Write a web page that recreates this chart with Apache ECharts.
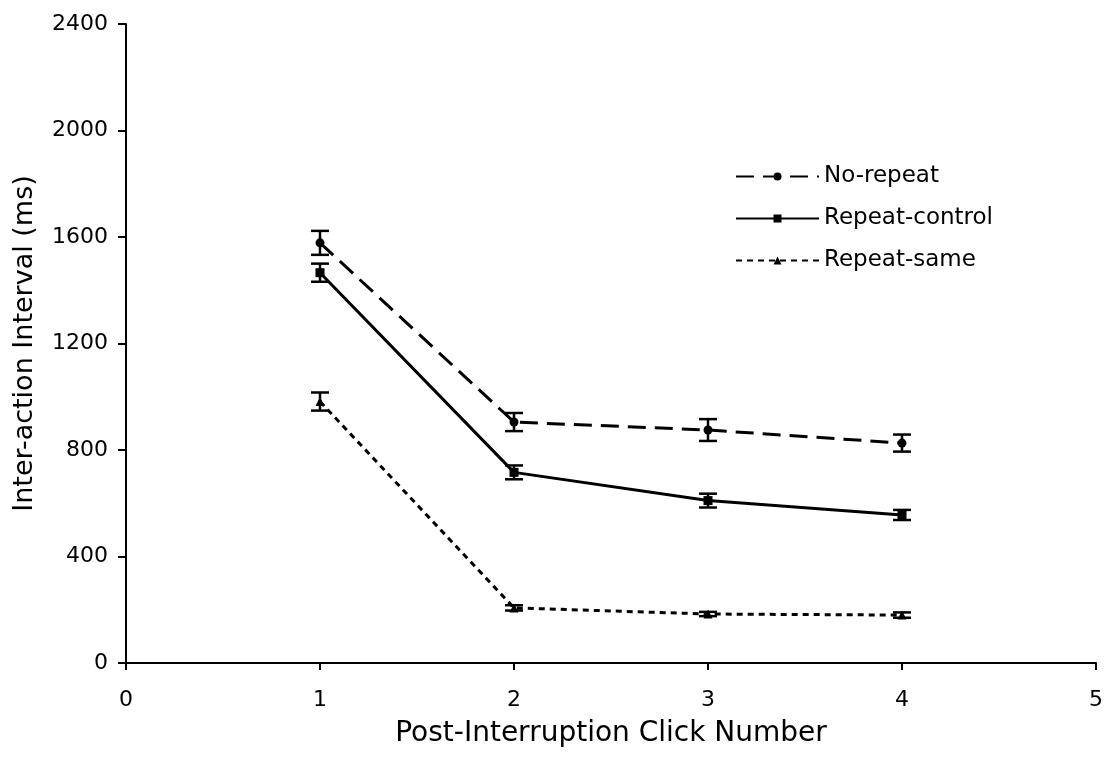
<!DOCTYPE html>
<html>
<head>
<meta charset="utf-8">
<script src="https://cdn.jsdelivr.net/npm/echarts@6/dist/echarts.min.js"></script>
<style>html,body{margin:0;padding:0;background:#fff;}#c{width:1106px;height:762px;}</style>
</head>
<body>
<div id="c"></div>
<script>
const clicks = [1, 2, 3, 4];
const noRepeat = [1578, 905, 875, 826];
const noRepeatErr = [45, 34, 41, 32];
const repeatControl = [1466, 716, 610, 556];
const repeatControlErr = [34, 26, 26, 19];
const repeatSame = [982, 207, 184, 180];
const repeatSameErr = [34, 10, 8, 10];
const xTicks = [0, 1, 2, 3, 4, 5];
const yTicks = [0, 400, 800, 1200, 1600, 2000, 2400];

const chart = echarts.init(document.getElementById('c'));
const font = 'Verdana, DejaVu Sans, sans-serif';

function pairs(vals) { return clicks.map((x, i) => [x, vals[i]]); }
function errData(vals, errs) { return clicks.map((x, i) => [x, vals[i] - errs[i], vals[i] + errs[i]]); }
function errSeries(name, vals, errs) {
  return {
    type: 'custom', name: name + ' err', data: errData(vals, errs), z: 5,
    renderItem: function (params, api) {
      const lo = api.coord([api.value(0), api.value(1)]);
      const hi = api.coord([api.value(0), api.value(2)]);
      const hw = 9;
      const st = { stroke: '#000', lineWidth: 2.5 };
      return { type: 'group', children: [
        { type: 'line', shape: { x1: lo[0], y1: lo[1], x2: hi[0], y2: hi[1] }, style: st },
        { type: 'line', shape: { x1: lo[0] - hw, y1: lo[1], x2: lo[0] + hw, y2: lo[1] }, style: st },
        { type: 'line', shape: { x1: hi[0] - hw, y1: hi[1], x2: hi[0] + hw, y2: hi[1] }, style: st }
      ]};
    },
    silent: true
  };
}

chart.setOption({
  animation: false,
  backgroundColor: '#fff',
  grid: { left: 126, right: 9, top: 24, bottom: 99, containLabel: false },
  legend: {
    orient: 'vertical', left: 730, top: 160,
    itemWidth: 83, itemHeight: 10, itemGap: 19,
    data: ['No-repeat', 'Repeat-control', 'Repeat-same'],
    textStyle: { fontFamily: font, fontSize: 23, color: '#000' }
  },
  xAxis: {
    type: 'value', min: 0, max: 5, interval: 1,
    name: 'Post-Interruption Click Number', nameLocation: 'middle', nameGap: 57,
    nameTextStyle: { fontFamily: font, fontSize: 28, color: '#000' },
    axisLine: { show: true, onZero: false, lineStyle: { color: '#000', width: 2 } },
    axisTick: { show: true, inside: false, length: 7, lineStyle: { color: '#000', width: 2 } },
    axisLabel: { fontFamily: font, fontSize: 22, color: '#000', margin: 26, formatter: v => xTicks.includes(v) ? String(v) : '' },
    splitLine: { show: false }
  },
  yAxis: {
    type: 'value', min: 0, max: 2400, interval: 400,
    name: 'Inter-action Interval (ms)', nameLocation: 'middle', nameGap: 88, nameRotate: 90,
    nameTextStyle: { fontFamily: font, fontSize: 27, color: '#000' },
    axisLine: { show: true, onZero: false, lineStyle: { color: '#000', width: 2 } },
    axisTick: { show: true, inside: false, length: 8, lineStyle: { color: '#000', width: 2 } },
    axisLabel: { fontFamily: font, fontSize: 22, color: '#000', margin: 18, formatter: v => yTicks.includes(v) ? String(v) : '' },
    splitLine: { show: false }
  },
  series: [
    { name: 'No-repeat', type: 'line', data: pairs(noRepeat), symbol: 'circle', symbolSize: 9,
      itemStyle: { color: '#000' }, lineStyle: { color: '#000', width: 3, type: [18, 9] }, z: 3 },
    { name: 'Repeat-control', type: 'line', data: pairs(repeatControl), symbol: 'rect', symbolSize: 9,
      itemStyle: { color: '#000' }, lineStyle: { color: '#000', width: 3, type: 'solid' }, z: 3 },
    { name: 'Repeat-same', type: 'line', data: pairs(repeatSame), symbol: 'triangle', symbolSize: 9,
      itemStyle: { color: '#000' }, lineStyle: { color: '#000', width: 3, type: [6, 5] }, z: 3 },
    errSeries('No-repeat', noRepeat, noRepeatErr),
    errSeries('Repeat-control', repeatControl, repeatControlErr),
    errSeries('Repeat-same', repeatSame, repeatSameErr)
  ]
});
</script>
</body>
</html>
